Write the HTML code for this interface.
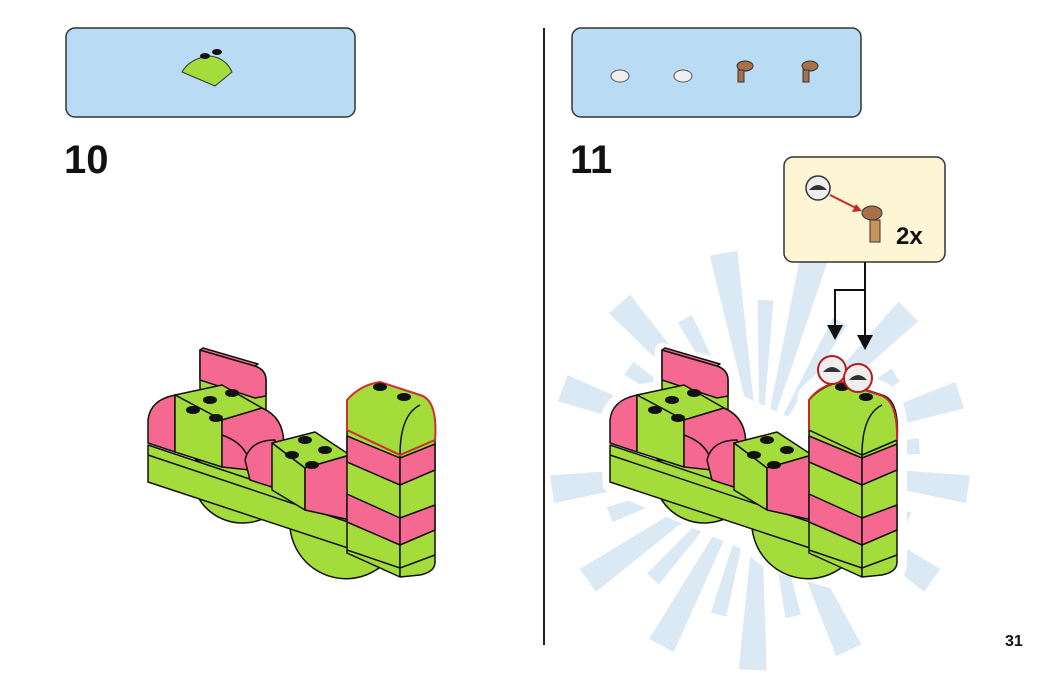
<!DOCTYPE html>
<html><head><meta charset="utf-8"><style>
html,body{margin:0;padding:0;background:#fff;}
body{width:1050px;height:673px;overflow:hidden;position:relative;font-family:"Liberation Sans",sans-serif;}
</style></head><body>
<svg width="1050" height="673" viewBox="0 0 1050 673" xmlns="http://www.w3.org/2000/svg" style="position:absolute;left:0;top:0">
<defs>
<g id="model" stroke="#111" stroke-width="1.5" stroke-linejoin="round">
  <path d="M200,350 L255,366 Q266,370 266,380 L266,418 L255,420 L200,400 Z" fill="#a4dc3c"/>
  <path d="M200,350 L255,366 Q266,370 266,380 L266,396 L255,398 L200,380 Z" fill="#f5688f"/>
  <path d="M203,348 L258,364 L255,366 L200,350 Z" fill="#f5688f"/>
  <path d="M195,460 A50,48 0 0 0 290,490 L290,470 Z" fill="#a4dc3c"/>
  <path d="M297,495 A48,48 0 0 0 395,550 L395,520 Z" fill="#a4dc3c"/>
  <path d="M148,445 L348,512 L348,548 L148,482 Z" fill="#a4dc3c"/>
  <line x1="148" y1="455" x2="348" y2="522"/>
  <path d="M148,420 Q150,400 175,395 L175,452 L148,443 Z" fill="#f5688f"/>
  <path d="M175,395 L222,385 L262,408 L222,420 Z" fill="#a4dc3c"/>
  <path d="M175,395 L222,420 L222,467 L175,452 Z" fill="#a4dc3c"/>
  <path d="M222,420 L262,408 Q290,420 282,460 L250,470 L222,467 Z" fill="#f5688f"/>
  <path d="M250,470 Q250,445 222,435" fill="none"/>
  <path d="M245,460 Q250,440 275,440 L275,488 L250,480 Z" fill="#f5688f"/>
  <path d="M272,443 L315,432 L350,455 L305,468 Z" fill="#a4dc3c"/>
  <path d="M272,443 L305,468 L305,510 L272,490 Z" fill="#a4dc3c"/>
  <path d="M305,468 L350,455 L350,520 L305,510 Z" fill="#f5688f"/>
  <path d="M347,430 L400,455 L400,577 L347,553 Z" fill="#a4dc3c"/>
  <path d="M400,455 L435,440 L435,562 Q435,572 420,575 L400,577 Z" fill="#a4dc3c"/>
  <path d="M347,436 L400,458 L400,485 L347,462 Z" fill="#f5688f"/>
  <path d="M400,458 L435,444 L435,470 L400,485 Z" fill="#f5688f"/>
  <path d="M347,494 L400,518 L400,545 L347,522 Z" fill="#f5688f"/>
  <path d="M400,518 L435,505 L435,530 L400,545 Z" fill="#f5688f"/>
  <line x1="347" y1="550" x2="400" y2="568"/>
  <line x1="400" y1="568" x2="435" y2="555"/>
  <path d="M347,430 L347,400 Q360,385 380,382 L420,395 Q438,400 435,440 L400,455 Z" fill="#a4dc3c"/>
  <path d="M400,455 Q400,415 420,405" fill="none"/>
</g>
<g id="studs" fill="#111">
  <ellipse cx="210" cy="400" rx="7" ry="4"/><ellipse cx="232" cy="393" rx="7" ry="4"/>
  <ellipse cx="193" cy="410" rx="7" ry="4"/><ellipse cx="216" cy="418" rx="7" ry="4"/>
  <ellipse cx="305" cy="440" rx="7" ry="4"/><ellipse cx="325" cy="450" rx="7" ry="4"/>
  <ellipse cx="292" cy="455" rx="7" ry="4"/><ellipse cx="312" cy="465" rx="7" ry="4"/>
</g>
<polygon id="ray" points="0,0 210,-14 210,14"/>
<polygon id="rayS" points="0,0 160,-8 160,8"/>
</defs>
<rect x="66" y="28" width="289" height="89" rx="9" fill="#b9dcf4" stroke="#333" stroke-width="1.5"/>
<rect x="572" y="28" width="289" height="89" rx="9" fill="#b9dcf4" stroke="#333" stroke-width="1.5"/>
<path d="M182,72 Q190,58 210,56 Q226,58 232,72 L215,86 Z" fill="#a4dc3c" stroke="#333"/>
<ellipse cx="205" cy="56" rx="5" ry="3" fill="#111"/><ellipse cx="217" cy="52" rx="5" ry="3" fill="#111"/>
<ellipse cx="620" cy="76" rx="9" ry="6" fill="#eee" stroke="#555"/>
<ellipse cx="683" cy="76" rx="9" ry="6" fill="#eee" stroke="#555"/>
<g fill="#a8714a" stroke="#333"><ellipse cx="745" cy="66" rx="8" ry="5"/><rect x="738" y="70" width="6" height="12"/>
<ellipse cx="810" cy="66" rx="8" ry="5"/><rect x="803" y="70" width="6" height="12"/></g>
<line x1="544" y1="28" x2="544" y2="645" stroke="#222" stroke-width="2"/>
<text x="64" y="173" font-size="40" font-weight="bold" fill="#111">10</text>
<text x="570" y="173" font-size="40" font-weight="bold" fill="#111">11</text>
<text x="1005" y="646" font-size="16" font-weight="bold" fill="#111">31</text>
<!-- starburst -->
<g fill="#cfe2f2" opacity="0.75" transform="translate(760,460)">
  <use href="#ray" transform="rotate(-100)"/><use href="#rayS" transform="rotate(-88)"/>
  <use href="#ray" transform="rotate(-75)"/><use href="#rayS" transform="rotate(-60)"/>
  <use href="#ray" transform="rotate(-45)"/><use href="#rayS" transform="rotate(-32)"/>
  <use href="#ray" transform="rotate(-18)"/><use href="#rayS" transform="rotate(-5)"/>
  <use href="#ray" transform="rotate(8)"/><use href="#rayS" transform="rotate(22)"/>
  <use href="#ray" transform="rotate(35)"/><use href="#rayS" transform="rotate(50)"/>
  <use href="#ray" transform="rotate(65)"/><use href="#rayS" transform="rotate(78)"/>
  <use href="#ray" transform="rotate(92)"/><use href="#rayS" transform="rotate(105)"/>
  <use href="#ray" transform="rotate(118)"/><use href="#rayS" transform="rotate(132)"/>
  <use href="#ray" transform="rotate(145)"/><use href="#rayS" transform="rotate(160)"/>
  <use href="#ray" transform="rotate(172)"/><use href="#rayS" transform="rotate(187)"/>
  <use href="#ray" transform="rotate(200)"/><use href="#rayS" transform="rotate(215)"/>
  <use href="#ray" transform="rotate(228)"/><use href="#rayS" transform="rotate(242)"/>
</g>
<!-- white halo -->
<path d="M662,350 L730,368 L735,400 L800,430 L805,395 Q820,375 845,372 L885,390 Q902,400 900,440 L900,565 Q898,580 880,582 L860,582 Q830,585 800,570 Q770,570 750,545 L610,485 L605,425 Q610,400 635,392 L660,388 Z" fill="#fff" stroke="#fff" stroke-width="14" stroke-linejoin="round"/>
<use href="#model"/><use href="#studs"/>
<g transform="translate(462,0)"><use href="#model"/><use href="#studs"/></g>
<path d="M809,430 L809,400 Q820,385 840,382 L880,395 Q898,400 897,440" fill="none" stroke="#c62828" stroke-width="2"/>
<ellipse cx="842" cy="387" rx="7" ry="4" fill="#111"/><ellipse cx="866" cy="397" rx="7" ry="4" fill="#111"/>
<g stroke="#b71c1c" stroke-width="2"><circle cx="832" cy="370" r="14" fill="#eee"/><circle cx="858" cy="378" r="14" fill="#eee"/></g>
<path d="M823,372 Q832,362 841,372 Z" fill="#333"/><path d="M849,380 Q858,370 867,380 Z" fill="#333"/>
<path d="M347,430 L347,400 Q360,385 380,382 L420,395 Q438,400 435,440 L400,455 Z" fill="none" stroke="#d32f2f" stroke-width="2"/>
<ellipse cx="380" cy="387" rx="7" ry="4" fill="#111"/><ellipse cx="404" cy="397" rx="7" ry="4" fill="#111"/>
<rect x="784" y="157" width="161" height="105" rx="9" fill="#fdf5d3" stroke="#333" stroke-width="1.5"/>
<circle cx="818" cy="188" r="12" fill="#eee" stroke="#333" stroke-width="1.5"/>
<path d="M809,190 Q818,180 827,190 Z" fill="#333"/>
<line x1="830" y1="195" x2="860" y2="210" stroke="#c62828" stroke-width="2"/>
<polygon points="862,211 852,212 856,204" fill="#c62828"/>
<ellipse cx="872" cy="213" rx="10" ry="7" fill="#a8714a" stroke="#333"/>
<rect x="870" y="220" width="10" height="22" fill="#c8945e" stroke="#333"/>
<text x="896" y="244" font-size="24" font-weight="bold" fill="#111">2x</text>
<g stroke="#111" stroke-width="2" fill="none"><path d="M865,262 L865,290 L835,290 L835,325"/><path d="M865,290 L865,335"/></g>
<polygon points="827,325 843,325 835,340" fill="#111"/><polygon points="857,335 873,335 865,350" fill="#111"/>
</svg>
</body></html>
